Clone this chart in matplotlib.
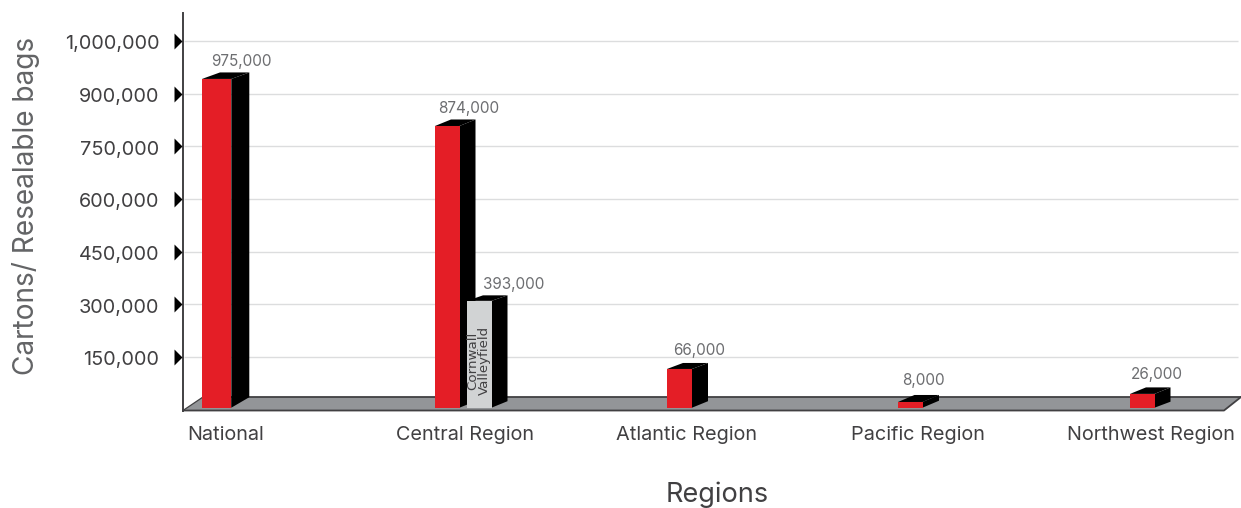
import matplotlib
matplotlib.use("Agg")
import matplotlib.pyplot as plt
from matplotlib.patches import Polygon
from matplotlib.path import Path
from matplotlib.transforms import ScaledTranslation

plt.rcParams['font.family'] = ['Inter', 'Liberation Sans', 'DejaVu Sans']

# ---- data -------------------------------------------------------------
categories = ["National", "Central Region", "Atlantic Region", "Pacific Region", "Northwest Region"]
bar_names = ["National", "Central Region", "Cornwall Valleyfield", "Atlantic Region", "Pacific Region", "Northwest Region"]
# heights as drawn in the picture, on the equal-step axis
drawn_heights = [942000, 808000, 310000, 116000, 22000, 45000]
value_labels = ["975,000", "874,000", "393,000", "66,000", "8,000", "26,000"]
tick_values = [150000, 300000, 450000, 600000, 750000, 900000, 1050000]
tick_labels = ["150,000", "300,000", "450,000", "600,000", "750,000", "900,000", "1,000,000"]

# ---- layout (pixels of the 1241x508 canvas) ----------------------------
W, H = 1241, 508
PER_PX = 150000 / 52.67
ZERO_PY = 409.7
AX_TOP, AX_BOT, AX_LEFT = 13, 410.5, 183


def v(py):
    return (ZERO_PY - py) * PER_PX


bar_left = [202, 435, 467, 667, 898, 1130]
bar_width = [29.3, 24.5, 24.5, 25, 24.5, 24.5]
bar_depth = [18, 16, 16, 16, 16.5, 16]
bar_rise = [6.5, 6.5, 5.5, 6, 7, 6.5]
bar_base_rise = [10.5, 6.5, 6.5, 6.5, 7, 6]
bar_bottom_py = 407.7
front_colors = ["#e41e26", "#e41e26", "#d1d3d4", "#e41e26", "#e41e26", "#e41e26"]
label_x = [241, 469, 514, 699, 923, 1157]
label_py = [61, 108, 284, 350, 381, 374]
cat_x = [226, 465, 686, 918, 1151]

fig = plt.figure(figsize=(W / 100, H / 100), dpi=100, facecolor="white")
ax = fig.add_axes([AX_LEFT / W, 1 - AX_BOT / H, (W - AX_LEFT) / W, (AX_BOT - AX_TOP) / H])
ax.set_xlim(AX_LEFT, W)
ax.set_ylim(v(AX_BOT), v(AX_TOP))
ax.set_facecolor("none")

for s in ("top", "right", "bottom"):
    ax.spines[s].set_visible(False)
ax.spines["left"].set_linewidth(1.4)
ax.spines["left"].set_color("#414042")

# gridlines
ax.hlines(tick_values, 184, 1238, colors="#dcddde", linewidth=1.0, zorder=1)

# floor
floor = Polygon([(AX_LEFT, v(410.5)), (1224, v(410.5)), (1241, v(397)), (203, v(397))],
                closed=True, facecolor="#939598", edgecolor="none", zorder=2, clip_on=False)
ax.add_patch(floor)
ax.plot([AX_LEFT, 1224, 1241], [v(410.5), v(410.5), v(397)], color="#414042", lw=1.3, zorder=3, clip_on=False)
ax.plot([AX_LEFT, 203], [v(410.5), v(397)], color="#414042", lw=0.9, zorder=3, clip_on=False)
ax.plot([203, 1241], [v(397), v(397)], color="#414042", lw=1.3, zorder=3, clip_on=False)

# 3-D looking bars
base = v(bar_bottom_py)
for i, h in enumerate(drawn_heights):
    x0, w = bar_left[i], bar_width[i]
    dx, dy = bar_depth[i], bar_rise[i] * PER_PX
    dyb = bar_base_rise[i] * PER_PX
    z = 5 + (1 if i == 2 else 0)
    ax.add_patch(Polygon([(x0 + w, base), (x0 + w + dx, base + dyb), (x0 + w + dx, h + dy), (x0 + w, h)],
                         closed=True, facecolor="black", edgecolor="none", zorder=z))
    ax.add_patch(Polygon([(x0, h), (x0 + dx, h + dy), (x0 + w + dx, h + dy), (x0 + w, h)],
                         closed=True, facecolor="black", edgecolor="none", zorder=z))
    ax.bar(x0, h - base, width=w, bottom=base, align="edge", color=front_colors[i], zorder=z + 0.5)
    ax.text(label_x[i], v(label_py[i]), value_labels[i], ha="center", va="center",
            fontsize=11, color="#6d6e71", zorder=8)

# vertical note inside the grey bar
ax.text(bar_left[2] + bar_width[2] / 2 - 0.5, v(bar_bottom_py - 12.7), "Cornwall\nValleyfield", rotation=90,
        ha="center", va="bottom", fontsize=9.6, linespacing=0.85, color="#414042", zorder=8,
        family="DejaVu Sans")

# axes text
ax.set_yticks(tick_values)
ax.set_yticklabels(tick_labels, fontsize=14.3, color="#414042")
ax.tick_params(axis="y", length=0, pad=17)
shift = ScaledTranslation(0, -1.2 / 100, fig.dpi_scale_trans)
for lab in ax.get_yticklabels():
    lab.set_transform(lab.get_transform() + shift)
tri = Path([(-1, -2), (1, 0), (-1, 2), (-1, -2)], closed=True)
ax.plot([178.5] * len(tick_values), tick_values, linestyle="none", marker=tri, ms=11.5, mfc="black", mec="none",
        clip_on=False, zorder=6)
ax.set_xticks(cat_x)
ax.set_xticklabels(categories, fontsize=14.3, color="#414042")
ax.tick_params(axis="x", length=0, pad=11.5)
fig.text(717 / W, 1 - 494.5 / H, "Regions", ha="center", va="center", fontsize=19.5, color="#414042")
fig.text(26 / W, 1 - 206 / H, "Cartons/ Resealable bags", rotation=90, ha="center", va="center",
         fontsize=20.2, color="#636466")

fig.savefig("out.png", dpi=100)
